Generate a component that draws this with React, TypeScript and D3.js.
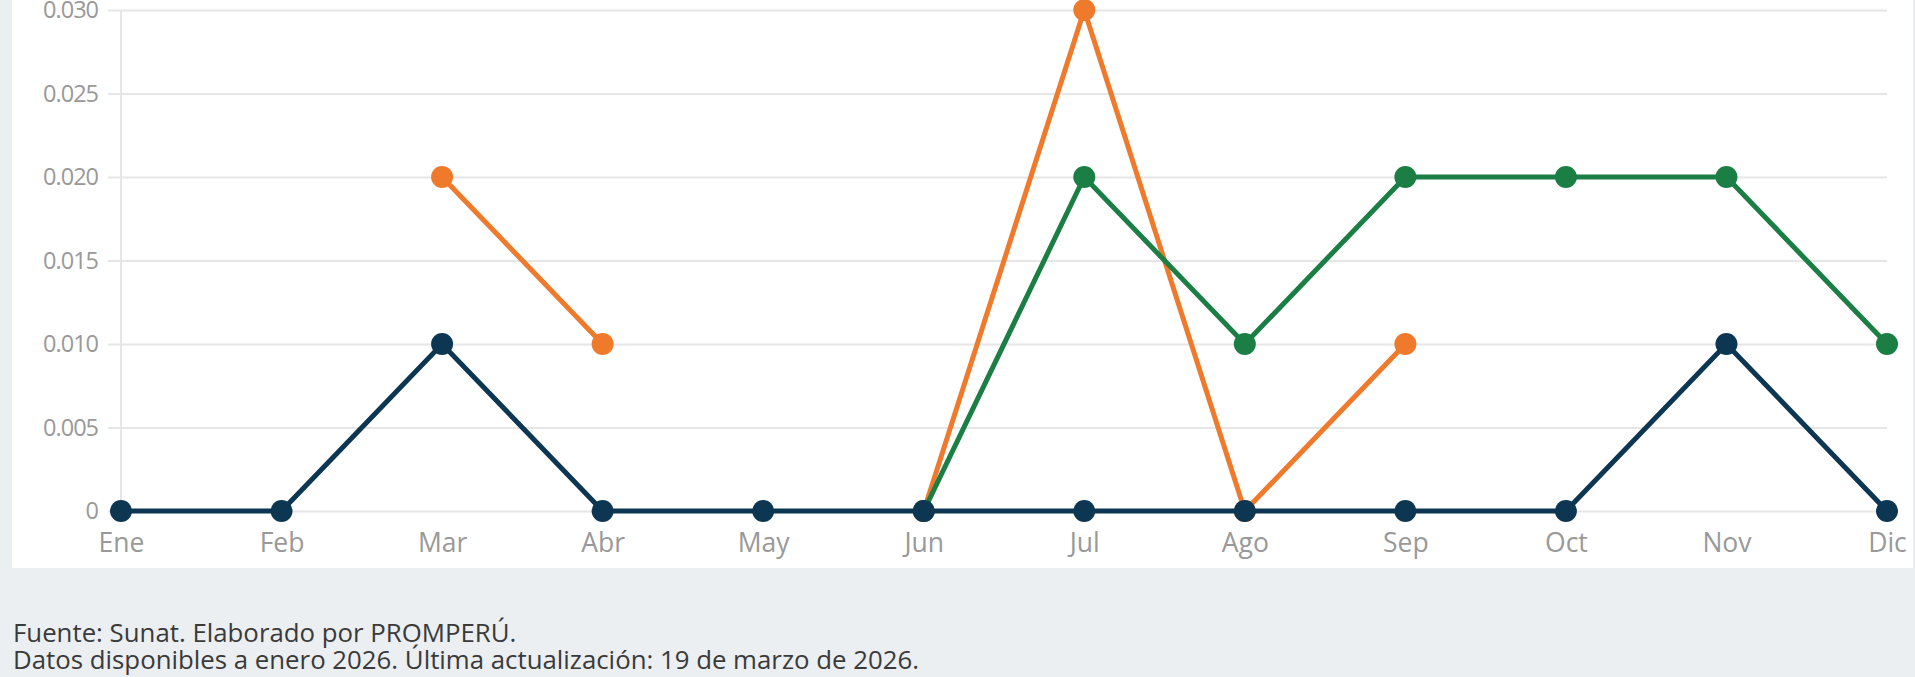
import React, { useEffect, useRef } from "react";
import * as d3 from "d3";

const months = ["Ene", "Feb", "Mar", "Abr", "May", "Jun", "Jul", "Ago", "Sep", "Oct", "Nov", "Dic"];
const yTicks = [0, 0.005, 0.01, 0.015, 0.02, 0.025, 0.03];

// null = no data for that month
const orangeValues = [null, null, 0.02, 0.01, null, 0, 0.03, 0, 0.01, null, null, null];
const greenValues = [null, null, null, null, null, 0, 0.02, 0.01, 0.02, 0.02, 0.02, 0.01];
const navyValues = [0, 0, 0.01, 0, 0, 0, 0, 0, 0, 0, 0.01, 0];

const seriesList = [
  { name: "naranja", color: "#f07a2b", values: orangeValues },
  { name: "verde", color: "#1b7e45", values: greenValues },
  { name: "azul", color: "#0c3651", values: navyValues },
];

const notes = [
  "Fuente: Sunat. Elaborado por PROMPERÚ.",
  "Datos disponibles a enero 2026. Última actualización: 19 de marzo de 2026.",
];

const W = 1915;
const H = 677;
const FONT = "'Open Sans', sans-serif";

const App = () => {
  const ref = useRef<SVGSVGElement>(null);

  useEffect(() => {
    const svg = d3.select(ref.current);
    svg.selectAll("*").remove();

    const margin = { top: 10, left: 121, right: 28, bottom: 166 };

    svg.append("rect").attr("width", W).attr("height", H).attr("fill", "#ebeff2");
    svg
      .append("rect")
      .attr("x", 12)
      .attr("y", -10)
      .attr("width", 1901)
      .attr("height", 578)
      .attr("fill", "#ffffff");

    const x = d3
      .scalePoint<string>()
      .domain(months)
      .range([margin.left, W - margin.right]);
    const y = d3
      .scaleLinear()
      .domain([0, 0.03])
      .range([H - margin.bottom, margin.top]);

    // y axis + gridlines
    const yAxis = svg
      .append("g")
      .attr("transform", `translate(${margin.left},0)`)
      .call(
        d3
          .axisLeft(y)
          .tickValues(yTicks)
          .tickSize(-(W - margin.right - margin.left))
          .tickPadding(23)
          .tickFormat((d) => (+d === 0 ? "0" : d3.format(".3f")(+d)))
      );
    yAxis.select(".domain").remove();
    yAxis
      .selectAll(".tick line")
      .attr("x1", -13)
      .attr("stroke", "#e6e6e6")
      .attr("stroke-width", 2);
    yAxis
      .selectAll(".tick text")
      .attr("fill", "#999999")
      .style("font-family", FONT)
      .style("font-size", "23.5px")
      .style("letter-spacing", "-1px");

    svg
      .append("line")
      .attr("x1", margin.left)
      .attr("x2", margin.left)
      .attr("y1", margin.top)
      .attr("y2", y(0))
      .attr("stroke", "#e6e6e6")
      .attr("stroke-width", 2);

    // x axis
    const xAxis = svg
      .append("g")
      .attr("transform", `translate(0,${y(0)})`)
      .call(d3.axisBottom(x).tickSize(0).tickPadding(22));
    xAxis.select(".domain").remove();
    xAxis
      .selectAll(".tick text")
      .attr("fill", "#999999")
      .style("font-family", FONT)
      .style("font-size", "26.5px");

    const line = d3
      .line<number | null>()
      .defined((d) => d !== null)
      .x((_, i) => x(months[i]) as number)
      .y((d) => y(d as number));

    seriesList.forEach((s) => {
      const g = svg.append("g");
      g.append("path")
        .datum(s.values)
        .attr("fill", "none")
        .attr("stroke", s.color)
        .attr("stroke-width", 5)
        .attr("d", line);
      g.selectAll("circle")
        .data(s.values.map((v, i) => ({ v, m: months[i] })).filter((d) => d.v !== null))
        .join("circle")
        .attr("cx", (d) => x(d.m) as number)
        .attr("cy", (d) => y(d.v as number))
        .attr("r", 11)
        .attr("fill", s.color);
    });

    svg
      .append("g")
      .selectAll("text")
      .data(notes)
      .join("text")
      .attr("x", 13)
      .attr("y", (_, i) => 642 + i * 27)
      .attr("fill", "#3a3a3a")
      .style("font-family", FONT)
      .style("font-size", "25.8px")
      .text((d) => d);
  }, []);

  return (
    <div style={{ position: "absolute", left: 0, top: 0 }}>
      <svg ref={ref} width={W} height={H} style={{ display: "block" }}></svg>
    </div>
  );
};

export default App;
